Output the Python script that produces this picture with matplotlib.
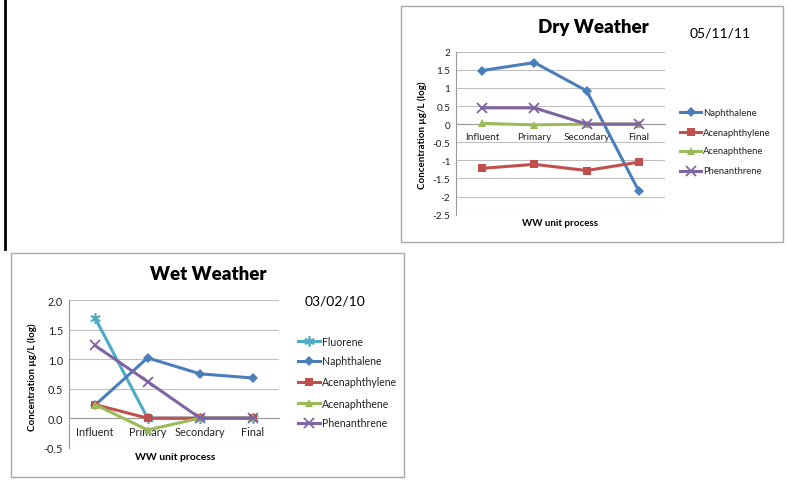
import numpy as np
import matplotlib
matplotlib.use('Agg')
import matplotlib.pyplot as plt
from matplotlib.patches import Rectangle
from matplotlib.lines import Line2D
from matplotlib.ticker import FormatStrFormatter

plt.rcParams['font.family'] = ['Lato', 'DejaVu Sans']

W, H = 788, 485

processes = ['Influent', 'Primary', 'Secondary', 'Final']

# dry weather, 05/11/11
dry_naphthalene = [1.48, 1.70, 0.92, -1.85]
dry_acenaphthylene = [-1.22, -1.11, -1.28, -1.05]
dry_acenaphthene = [0.02, -0.02, 0.0, 0.0]
dry_phenanthrene = [0.45, 0.45, 0.0, 0.0]

# wet weather, 03/02/10
wet_fluorene = [1.70, 0.0, 0.0, 0.0]
wet_naphthalene = [0.22, 1.02, 0.75, 0.68]
wet_acenaphthylene = [0.23, 0.0, 0.0, 0.0]
wet_acenaphthene = [0.23, -0.20, 0.0, 0.0]
wet_phenanthrene = [1.23, 0.62, 0.0, 0.0]

STYLE = {
    'Fluorene':       dict(color='#4BACC6', marker=(6, 2, 0), ms=7.5, mew=1.2),
    'Naphthalene':    dict(color='#4A7EBB', marker='D', ms=5, mew=0),
    'Acenaphthylene': dict(color='#C0504D', marker='s', ms=5.5, mew=0),
    'Acenaphthene':   dict(color='#9BBB59', marker='^', ms=6, mew=0),
    'Phenanthrene':   dict(color='#8064A2', marker='x', ms=6.5, mew=1.3),
}


def px_axes(fig, x0, y0, x1, y1):
    return fig.add_axes([x0 / W, 1 - y1 / H, (x1 - x0) / W, (y1 - y0) / H])


def box(fig, x0, y0, x1, y1):
    fig.patches.append(Rectangle((x0 / W, 1 - y1 / H), (x1 - x0) / W, (y1 - y0) / H,
                                 transform=fig.transFigure, fill=False,
                                 edgecolor='#a6a6a6', lw=1.0))


def draw_panel(ax, series, ylim, fmt, tick_fs):
    x = np.arange(len(processes))
    for name, vals in series:
        st = STYLE[name]
        ax.plot(x, vals, '-', color=st['color'], lw=2.2, marker=st['marker'],
                ms=st['ms'], mew=st['mew'], mec=st['color'], mfc=st['color'],
                label=name, clip_on=False, zorder=3)
    ax.set_xlim(-0.5, len(processes) - 0.5)
    ax.set_ylim(*ylim)
    ax.set_yticks(np.arange(ylim[0], ylim[1] + 0.01, 0.5))
    ax.yaxis.set_major_formatter(FormatStrFormatter(fmt) if fmt
                                 else plt.FuncFormatter(lambda v, p: f'{v:g}'))
    ax.set_xticks(x)
    ax.set_xticklabels(processes)
    ax.grid(axis='y', color='#bfbfbf', lw=0.8)
    ax.set_axisbelow(True)
    for s in ['top', 'right']:
        ax.spines[s].set_visible(False)
    ax.spines['left'].set_color('#999999')
    ax.spines['bottom'].set_position(('data', 0))
    ax.spines['bottom'].set_color('#999999')
    ax.tick_params(length=0, labelsize=tick_fs, colors='#222222', pad=4)
    ax.tick_params(axis='x', pad=6)


def legend_rows(fig, names, x_line, x_text, ys, fs):
    for name, y in zip(names, ys):
        st = STYLE[name]
        yf = 1 - y / H
        fig.add_artist(Line2D([x_line / W, (x_text - 2) / W], [yf, yf], color=st['color'],
                              lw=2.2, transform=fig.transFigure))
        fig.add_artist(Line2D([(x_line + x_text - 2) / 2 / W], [yf], color=st['color'],
                              marker=st['marker'], ms=st['ms'], mew=st['mew'],
                              mec=st['color'], mfc=st['color'], transform=fig.transFigure))
        fig.text(x_text / W, yf, name, fontsize=fs, va='center', ha='left', color='#222222')


fig = plt.figure(figsize=(W / 100, H / 100), dpi=100)

# black rule on the left edge of the slide
fig.add_artist(Line2D([4.5 / W, 4.5 / W], [1, 1 - 250 / H], color='black', lw=2.0,
                      transform=fig.transFigure))

# ── Dry weather ───────────────────────────────────────────────────────────
box(fig, 401, 7, 783, 243)
ax_dry = px_axes(fig, 456, 52.7, 665, 215.7)
dry_series = [('Naphthalene', dry_naphthalene), ('Acenaphthylene', dry_acenaphthylene),
              ('Acenaphthene', dry_acenaphthene), ('Phenanthrene', dry_phenanthrene)]
draw_panel(ax_dry, dry_series, (-2.5, 2.0), None, 7.2)
fig.text(593 / W, 1 - 28 / H, 'Dry Weather', fontsize=13.5, fontweight='heavy',
         ha='center', va='center')
fig.text(720 / W, 1 - 34 / H, '05/11/11', fontsize=10, ha='center', va='center')
fig.text(422 / W, 1 - 135 / H, 'Concentration µg/L (log)', fontsize=7, fontweight='bold',
         rotation=90, ha='center', va='center')
fig.text(560 / W, 1 - 224 / H, 'WW unit process', fontsize=7, fontweight='bold',
         ha='center', va='center')
legend_rows(fig, [n for n, _ in dry_series], 680, 703, [113, 133, 152, 172], 6.8)

# ── Wet weather ───────────────────────────────────────────────────────────
box(fig, 11, 254, 404, 478)
ax_wet = px_axes(fig, 68.7, 301, 279, 448.7)
wet_series = [('Fluorene', wet_fluorene), ('Naphthalene', wet_naphthalene),
              ('Acenaphthylene', wet_acenaphthylene), ('Acenaphthene', wet_acenaphthene),
              ('Phenanthrene', wet_phenanthrene)]
draw_panel(ax_wet, wet_series, (-0.5, 2.0), '%.1f', 7.8)
fig.text(208 / W, 1 - 275 / H, 'Wet Weather', fontsize=13.5, fontweight='heavy',
         ha='center', va='center')
fig.text(335 / W, 1 - 302 / H, '03/02/10', fontsize=10, ha='center', va='center')
fig.text(32 / W, 1 - 377 / H, 'Concentration µg/L (log)', fontsize=7, fontweight='bold',
         rotation=90, ha='center', va='center')
fig.text(175 / W, 1 - 458 / H, 'WW unit process', fontsize=7.5, fontweight='bold',
         ha='center', va='center')
legend_rows(fig, [n for n, _ in wet_series], 298, 322, [342, 362, 383, 404, 424], 7.6)

fig.savefig('out.png', dpi=100)
